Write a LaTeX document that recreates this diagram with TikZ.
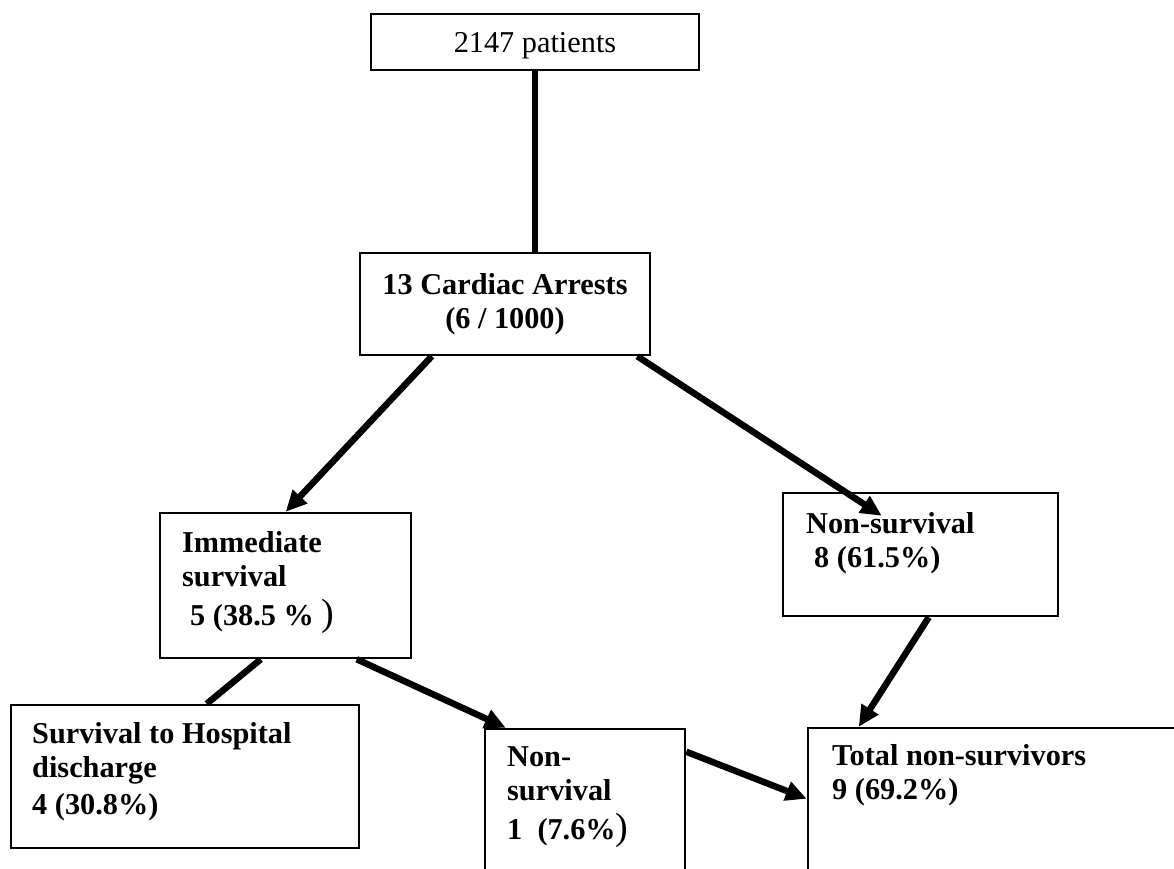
\documentclass[tikz,border=0pt]{standalone}
\usepackage{fontspec}
\setmainfont{Liberation Serif}
\usetikzlibrary{arrows.meta}

\begin{document}
\begin{tikzpicture}[x=1pt, y=-1pt,
  box/.style={draw, line width=2.5pt, inner sep=0pt, align=center},
  txt/.style={inner sep=0pt, anchor=north west, align=left, font=\bfseries\fontsize{30.3}{34}\selectfont},
  link/.style={line width=6.5pt},
  arr/.style={link, -{Triangle[length=21pt, width=19pt]}}]
  \clip (0,0) rectangle (1174,868);

  \node[box, minimum width=328pt, minimum height=56pt, font=\fontsize{30.3}{34}\selectfont] (pat) at (535,42) {\raisebox{-10pt}[0pt][0pt]{2147 patients}};
  \node[box, minimum width=290pt, minimum height=102pt, font=\bfseries\fontsize{30.3}{34}\selectfont] (ca) at (505,304) {13 Cardiac Arrests\\(6 / 1000)};
  \node[box, minimum width=251pt, minimum height=145pt] (imm) at (285.5,585.5) {};
  \node[box, minimum width=275pt, minimum height=123pt] (non) at (920.5,554.5) {};
  \node[box, minimum width=348pt, minimum height=143pt] (surv) at (185,776.5) {};
  \node[box, minimum width=200pt, minimum height=160pt] (non1) at (585,809) {};
  \node[box, minimum width=400pt, minimum height=160pt] (tot) at (1008,808) {};

  \node[txt] (imm-t) at (182,531) {Immediate\\survival\\[5pt]\hspace*{8pt}5 (38.5 \% {\mdseries\fontsize{38}{38}\selectfont)}};
  \node[txt] (non-t) at (806,512) {Non-survival\\\hspace*{8pt}8 (61.5\%)};
  \node[txt] (surv-t) at (32,722) {Survival to Hospital\\discharge\\[3pt]4 (30.8\%)};
  \node[txt] (non1-t) at (507,746) {Non-\\survival\\[5pt]1\ \ (7.6\%{\mdseries\fontsize{38}{38}\selectfont)}};
  \node[txt] (tot-t) at (832,744) {Total non-survivors\\9 (69.2\%)};

  \draw[link] (pat.south) -- (pat.south |- ca.north);
  \draw[arr] ([shift={(73,0)}]ca.south west) -- ([shift={(127,0)}]imm.north west);
  \draw[arr] ([shift={(-14,0)}]ca.south east) -- ([shift={(100,24)}]non.north west);
  \draw[link] ([shift={(102,0)}]imm.south west) -- ([shift={(197,0)}]surv.north west);
  \draw[arr] ([shift={(198,0)}]imm.south west) -- ([shift={(22,0)}]non1.north west);
  \draw[arr] ([shift={(147,0)}]non.south west) -- ([shift={(52,0)}]tot.north west);
  \draw[arr] ([shift={(0,24)}]non1.north east) -- ([shift={(0,72)}]tot.north west);
\end{tikzpicture}
\end{document}
